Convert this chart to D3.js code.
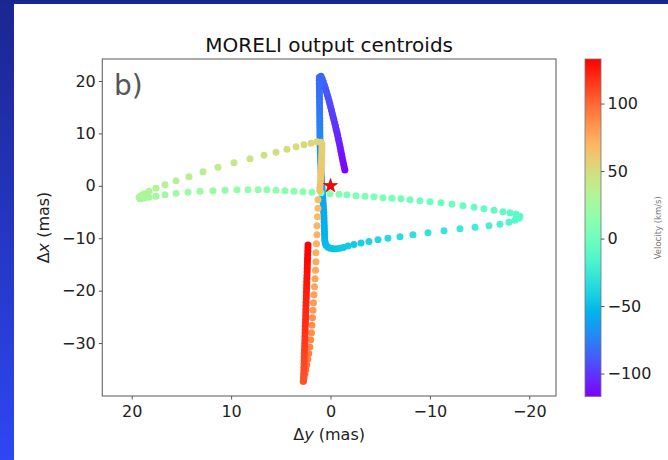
<!DOCTYPE html>
<html>
<head>
<meta charset="utf-8">
<script src="https://cdn.jsdelivr.net/npm/d3@7"></script>
<style>
  html, body { margin: 0; padding: 0; background: #fff; }
  svg { display: block; font-family: "DejaVu Sans", sans-serif; }
</style>
</head>
<body>
<svg id="chart" width="668" height="460"></svg>
<script>
// Centroid tracks, one point per velocity channel: [Δy (mas), Δx (mas), velocity (km/s)]
const trackPurple = [
  [-1.45,3.0,-117],[-1.38,3.6,-116],[-1.31,4.2,-115],[-1.24,4.8,-114],[-1.18,5.4,-113],
  [-1.12,6.0,-112],[-1.05,6.6,-111],[-0.99,7.2,-110],[-0.93,7.8,-108],[-0.86,8.4,-107],
  [-0.79,9.0,-106],[-0.72,9.6,-105],[-0.65,10.2,-104],[-0.57,10.8,-103],[-0.50,11.4,-102],
  [-0.42,12.0,-101],[-0.34,12.6,-100],[-0.26,13.2,-99],[-0.18,13.8,-98],[-0.10,14.4,-97],
  [-0.02,15.0,-96],[0.06,15.6,-95],[0.14,16.2,-93],[0.23,16.8,-92],[0.32,17.4,-91],
  [0.41,18.0,-90],[0.51,18.6,-89],[0.61,19.2,-88],[0.72,19.8,-87],[0.83,20.4,-86],[0.95,20.9,-85]
];
const trackBlue = [
  [1.12,20.7,-84],[1.13,20.1,-83],[1.13,19.5,-83],[1.12,18.9,-82],[1.12,18.3,-82],
  [1.11,17.7,-81],[1.11,17.1,-81],[1.10,16.5,-80],[1.10,15.9,-79],[1.10,15.3,-79],
  [1.09,14.7,-78],[1.09,14.1,-78],[1.09,13.5,-77],[1.08,12.9,-76],[1.08,12.3,-76],
  [1.08,11.7,-75],[1.07,11.1,-75],[1.07,10.5,-74],[1.07,9.9,-73],[1.06,9.3,-73],
  [1.06,8.7,-72],[1.05,8.1,-72],[1.04,7.5,-71],[1.03,6.9,-70],[1.02,6.3,-70],
  [1.01,5.7,-69],[1.00,5.1,-69],[0.99,4.5,-68],[0.97,3.9,-67],[0.96,3.3,-67],
  [0.95,2.7,-66],[0.93,2.1,-66],[0.92,1.5,-65],[0.90,0.9,-64],[0.88,0.3,-64],
  [0.86,-0.3,-63],[0.83,-0.9,-63],[0.80,-1.5,-62],[0.78,-2.1,-61],[0.76,-2.7,-61],
  [0.74,-3.3,-60],[0.72,-3.9,-60],[0.70,-4.5,-59],[0.68,-5.1,-58],[0.66,-5.7,-58],
  [0.65,-6.3,-57],[0.64,-6.9,-57],[0.63,-7.5,-56],[0.62,-8.1,-55],[0.61,-8.7,-55],
  [0.60,-9.3,-54],[0.59,-9.9,-54],[0.57,-10.5,-53],[0.52,-11.0,-53],
  [0.42,-11.4,-52],[0.25,-11.7,-51],[0.02,-11.9,-50],[-0.25,-12.0,-49]
];
const trackCyan = [
  [-0.60,-12.0,-48],[-0.95,-11.9,-47],[-1.30,-11.75,-46],[-1.76,-11.5,-45],[-2.36,-11.2,-44],
  [-3.07,-10.9,-42],[-3.87,-10.6,-40],[-4.78,-10.31,-38],[-5.78,-10.02,-36],[-6.99,-9.73,-34],
  [-8.30,-9.35,-32],[-9.81,-8.97,-30],[-11.42,-8.59,-28],[-13.03,-8.21,-25],[-14.54,-7.92,-22],
  [-15.95,-7.63,-19],[-17.05,-7.35,-17],[-17.96,-6.97,-15],[-18.56,-6.58,-13],[-18.96,-6.2,-11],
  [-19.06,-5.82,-10]
];
const trackGreen = [
  [-18.66,-5.44,-9],[-18.06,-5.15,-8],[-17.35,-4.96,-7],[-16.45,-4.68,-6],[-15.44,-4.39,-5],
  [-14.44,-4.1,-4],[-13.33,-3.82,-3],[-12.22,-3.53,-2],[-11.12,-3.24,-1],[-10.01,-3.05,0],
  [-9.0,-2.86,1],[-8.0,-2.67,2],[-7.09,-2.48,3],[-6.19,-2.39,4],[-5.28,-2.29,5],
  [-4.38,-2.1,6],[-3.47,-2.0,6],[-2.57,-1.91,7],[-1.66,-1.72,8],[-0.86,-1.62,9],
  [0.05,-1.53,9],[0.96,-1.34,10],[1.86,-1.24,11],[2.77,-1.15,12],[3.67,-1.05,12],
  [4.58,-0.95,13],[5.48,-0.86,14],[6.39,-0.76,15],[7.29,-0.76,16],[8.3,-0.76,17],
  [9.41,-0.76,18],[10.61,-0.86,19],[11.82,-0.95,20],[13.13,-1.05,21],[14.34,-1.24,22],
  [15.54,-1.43,23],[16.65,-1.72,24],[17.56,-2.0,25],[18.26,-2.19,26],[18.76,-2.39,27],
  [19.16,-2.48,28]
];
const trackLime = [
  [19.26,-2.19,29],[19.06,-1.91,30],[18.76,-1.53,31],[18.26,-1.05,32],[17.56,-0.48,33],
  [16.65,0.19,34],[15.54,0.95,35],[14.24,1.72,37],[12.83,2.67,38],[11.32,3.53,40],
  [9.71,4.39,42],[8.1,5.15,44],[6.69,5.82,46],[5.48,6.39,48],[4.38,6.97,50],
  [3.47,7.44,51],[2.67,7.82,52],[1.96,8.11,53],[1.36,8.4,54],[0.96,8.3,55]
];
const trackOrange = [
  [0.86,8.0,56],[0.86,7.45,57],[0.86,6.9,57],[0.87,6.35,58],[0.88,5.8,58],
  [0.89,5.25,59],[0.90,4.7,59],[0.91,4.15,60],[0.92,3.6,60],[0.94,3.05,61],
  [0.96,2.5,61],[0.98,1.95,62],[1.00,1.4,62],[1.02,0.85,63],[1.04,0.3,63],
  [1.06,-0.3,64],[1.08,-0.9,64],
  [1.26,-2.67,66],[1.26,-4.29,67],[1.31,-5.92,69],[1.36,-7.63,70],[1.36,-9.35,71],
  [1.41,-11.07,72],[1.46,-12.79,73],[1.46,-14.5,75],[1.51,-16.13,76],[1.56,-17.75,77],
  [1.61,-19.27,78],[1.66,-20.8,80],[1.71,-22.33,81],[1.76,-23.76,82],[1.81,-25.19,84],
  [1.86,-26.62,85],[1.91,-28.05,86],[1.99,-29.39,88],[2.08,-30.73,89],[2.18,-31.97,91],
  [2.28,-33.11,92],[2.38,-34.16,94],[2.48,-35.11,95],[2.58,-35.97,97],[2.67,-36.74,98],
  [2.74,-37.31,100]
];
const trackRed = [
  [2.72,-37.2,107],[2.71,-36.55,108],[2.70,-35.9,108],[2.68,-35.25,109],[2.67,-34.6,110],
  [2.66,-33.95,110],[2.65,-33.3,111],[2.64,-32.65,112],[2.63,-32.0,112],[2.62,-31.35,113],
  [2.60,-30.7,113],[2.59,-30.05,114],[2.58,-29.4,115],[2.57,-28.75,115],[2.56,-28.1,116],
  [2.55,-27.45,117],[2.54,-26.8,117],[2.52,-26.15,118],[2.51,-25.5,119],[2.50,-24.85,119],
  [2.49,-24.2,120],[2.48,-23.55,121],[2.47,-22.9,121],[2.46,-22.25,122],[2.44,-21.6,123],
  [2.43,-20.95,123],[2.42,-20.3,124],[2.41,-19.65,125],[2.40,-19.0,125],[2.39,-18.35,126],
  [2.38,-17.7,127],[2.36,-17.05,127],[2.35,-16.4,128],[2.34,-15.75,129],[2.33,-15.1,129],
  [2.32,-14.45,130],[2.31,-13.8,131],[2.30,-13.15,131],[2.28,-12.5,132],[2.27,-11.85,132],
  [2.26,-11.3,133]
];

// Reference position (star) and axis settings
const referencePoint = [0, 0];
const xTicks = [20, 10, 0, -10, -20];
const yTicks = [20, 10, 0, -10, -20, -30];
const velocityTicks = [-100, -50, 0, 50, 100];
const xLimits = [22.96, -22.69];
const yLimits = [-40.1, 24.2];

const centroids = [].concat(trackPurple, trackBlue, trackCyan, trackGreen, trackLime, trackOrange, trackRed);

// matplotlib "rainbow" colormap (gnuplot functions 33, 13, 10)
function rainbow(t) {
  t = Math.max(0, Math.min(1, t));
  const r = Math.min(1, Math.abs(2 * t - 0.5));
  const g = Math.sin(Math.PI * t);
  const b = Math.cos(Math.PI / 2 * t);
  return d3.rgb(r * 255, g * 255, b * 255).formatHex();
}

const W = 668, H = 460;
const plot = { left: 102.3, right: 556, top: 59, bottom: 396 };
const bar = { left: 585, right: 601, top: 59, bottom: 396.5 };

const svg = d3.select("#chart");
const defs = svg.append("defs");

// slide backdrop: blue strip along the top and left edges
const frameGrad = defs.append("linearGradient").attr("id", "frameGrad")
  .attr("x1", 0).attr("y1", 0).attr("x2", 0).attr("y2", 1);
frameGrad.append("stop").attr("offset", "0%").attr("stop-color", "#1a2690");
frameGrad.append("stop").attr("offset", "100%").attr("stop-color", "#2f46f3");
svg.append("rect").attr("width", W).attr("height", H).attr("fill", "url(#frameGrad)");
svg.append("rect").attr("x", 14).attr("y", 4).attr("width", W - 14).attr("height", H - 4).attr("fill", "#fff");

const x = d3.scaleLinear().domain(xLimits).range([plot.left, plot.right]);
const y = d3.scaleLinear().domain(yLimits).range([plot.bottom, plot.top]);
const vExtent = d3.extent(centroids, d => d[2]);
const vNorm = d3.scaleLinear().domain(vExtent).range([0, 1]);
const color = v => rainbow(vNorm(v));

// centroid markers
svg.append("g").selectAll("circle").data(centroids).join("circle")
  .attr("cx", d => x(d[0]))
  .attr("cy", d => y(d[1]))
  .attr("r", 3.5)
  .attr("fill", d => color(d[2]));

// reference star
svg.append("path")
  .attr("d", d3.symbol(d3.symbolStar).size(62)())
  .attr("transform", `translate(${x(referencePoint[0])},${y(referencePoint[1])})`)
  .attr("fill", "#ff0000")
  .attr("stroke", "#b00000")
  .attr("stroke-width", 0.6);

// panel tag
svg.append("text").attr("x", 114).attr("y", 95)
  .attr("font-size", 28).attr("fill", "#555").text("b)");

// axes
const tickColor = "#555", labelColor = "#222";
function styleAxis(g) {
  g.select(".domain").remove();
  g.selectAll(".tick line").attr("stroke", tickColor).attr("stroke-width", 1);
  g.selectAll(".tick text").attr("font-size", 16).attr("fill", labelColor)
    .attr("font-family", "DejaVu Sans, sans-serif");
}
svg.append("g").attr("transform", `translate(0,${plot.bottom})`)
  .call(d3.axisBottom(x).tickValues(xTicks).tickSize(3.5).tickPadding(6))
  .call(styleAxis);
svg.append("g").attr("transform", `translate(${plot.left},0)`)
  .call(d3.axisLeft(y).tickValues(yTicks).tickSize(3.5).tickPadding(3))
  .call(styleAxis);

// plot frame
svg.append("rect")
  .attr("x", plot.left).attr("y", plot.top)
  .attr("width", plot.right - plot.left).attr("height", plot.bottom - plot.top)
  .attr("fill", "none").attr("stroke", "#666").attr("stroke-width", 1.1);

// title and axis labels
svg.append("text").attr("x", (plot.left + plot.right) / 2).attr("y", 52)
  .attr("text-anchor", "middle").attr("font-size", 20).attr("fill", "#111")
  .text("MORELI output centroids");

const xl = svg.append("text").attr("x", (plot.left + plot.right) / 2).attr("y", 440)
  .attr("text-anchor", "middle").attr("font-size", 16).attr("fill", labelColor);
xl.append("tspan").text("Δ");
xl.append("tspan").attr("font-style", "italic").text("y");
xl.append("tspan").text(" (mas)");

const yl = svg.append("text")
  .attr("transform", `translate(49,${(plot.top + plot.bottom) / 2}) rotate(-90)`)
  .attr("text-anchor", "middle").attr("font-size", 16).attr("fill", labelColor);
yl.append("tspan").text("Δ");
yl.append("tspan").attr("font-style", "italic").text("x");
yl.append("tspan").text(" (mas)");

// colour bar
const vScale = d3.scaleLinear().domain(vExtent).range([bar.bottom, bar.top]);
const barGrad = defs.append("linearGradient").attr("id", "barGrad")
  .attr("x1", 0).attr("y1", 1).attr("x2", 0).attr("y2", 0);
d3.range(0, 1.0001, 0.05).forEach(t => {
  barGrad.append("stop").attr("offset", (t * 100) + "%").attr("stop-color", rainbow(t));
});
svg.append("rect")
  .attr("x", bar.left).attr("y", bar.top)
  .attr("width", bar.right - bar.left).attr("height", bar.bottom - bar.top)
  .attr("fill", "url(#barGrad)").attr("stroke", "#777").attr("stroke-width", 0.8);
svg.append("g").attr("transform", `translate(${bar.right},0)`)
  .call(d3.axisRight(vScale).tickValues(velocityTicks).tickSize(3.5).tickPadding(3))
  .call(styleAxis);
svg.append("text")
  .attr("transform", `translate(661,${(bar.top + bar.bottom) / 2}) rotate(-90)`)
  .attr("text-anchor", "middle").attr("font-size", 8.5).attr("fill", "#777")
  .text("Velocity (km/s)");
</script>
</body>
</html>
